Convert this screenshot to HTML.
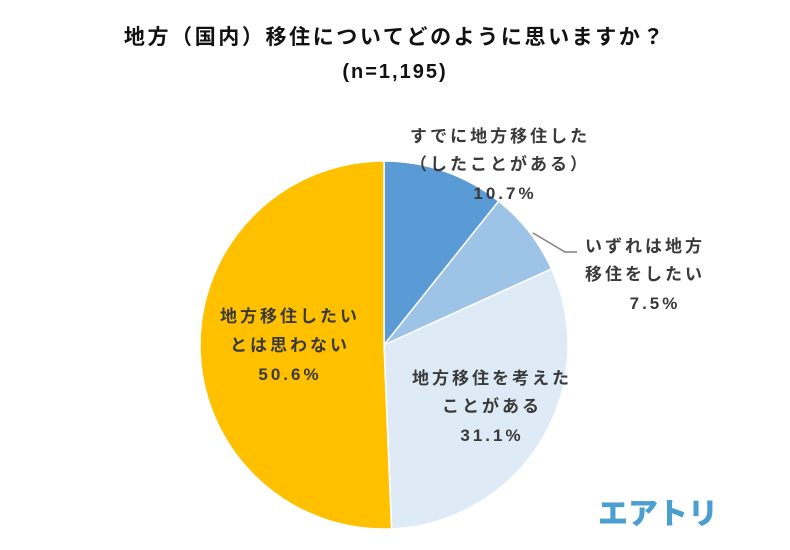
<!DOCTYPE html>
<html><head><meta charset="utf-8"><style>
body{margin:0;background:#fff;width:790px;height:545px;overflow:hidden}
svg text{font-family:"Liberation Sans","Noto Sans CJK JP",sans-serif;fill:#3a3a3a;font-weight:bold}
</style></head><body>
<svg id="chart" width="790" height="545" viewBox="0 0 790 545">
<text x="395" y="44" text-anchor="middle" font-size="21" letter-spacing="2.6" style="fill:#111">地方（国内）移住についてどのように思いますか？</text>
<text x="395" y="78" text-anchor="middle" font-size="20" letter-spacing="2" style="fill:#111">(n=1,195)</text>
<g id="slices"></g>
<polyline points="533,233 565,252 577,252" fill="none" stroke="#808080" stroke-width="1.5"/>
<g font-size="17" letter-spacing="3">
<text text-anchor="middle"><tspan x="500" y="142">すでに地方移住した</tspan><tspan x="500" y="170">（したことがある）</tspan><tspan x="505" y="199">10.7%</tspan></text>
<text text-anchor="middle"><tspan x="645" y="252">いずれは地方</tspan><tspan x="645" y="280">移住をしたい</tspan><tspan x="655" y="309">7.5%</tspan></text>
<text text-anchor="middle"><tspan x="492" y="384">地方移住を考えた</tspan><tspan x="492" y="412">ことがある</tspan><tspan x="492" y="441">31.1%</tspan></text>
<text text-anchor="middle"><tspan x="290" y="322">地方移住したい</tspan><tspan x="290" y="351">とは思わない</tspan><tspan x="290" y="380">50.6%</tspan></text>
</g>
<text x="658" y="524" text-anchor="middle" font-size="30" style="fill:#4a9fd0;font-weight:900">エアトリ</text>
</svg>
<script>
const categories=["すでに地方移住した","いずれは地方移住をしたい","地方移住を考えたことがある","地方移住したいとは思わない"];
const values=[10.7,7.5,31.1,50.6];
const colors=["#5b9bd5","#9dc3e6","#deebf7","#ffc000"];
const cx=384,cy=345,r=184;
const g=document.getElementById('slices');
const total=values.reduce((a,b)=>a+b,0);
let a0=0;
values.forEach((v,i)=>{
  const a1=a0+v/total*2*Math.PI;
  const x0=cx+r*Math.sin(a0),y0=cy-r*Math.cos(a0),x1=cx+r*Math.sin(a1),y1=cy-r*Math.cos(a1);
  const p=document.createElementNS('http://www.w3.org/2000/svg','path');
  p.setAttribute('d',`M${cx},${cy}L${x0},${y0}A${r},${r} 0 ${a1-a0>Math.PI?1:0} 1 ${x1},${y1}Z`);
  p.setAttribute('fill',colors[i]);
  p.setAttribute('stroke','#fff');
  p.setAttribute('stroke-width','1.5');
  
  
  g.appendChild(p);
  a0=a1;
});
</script>
</body></html>
